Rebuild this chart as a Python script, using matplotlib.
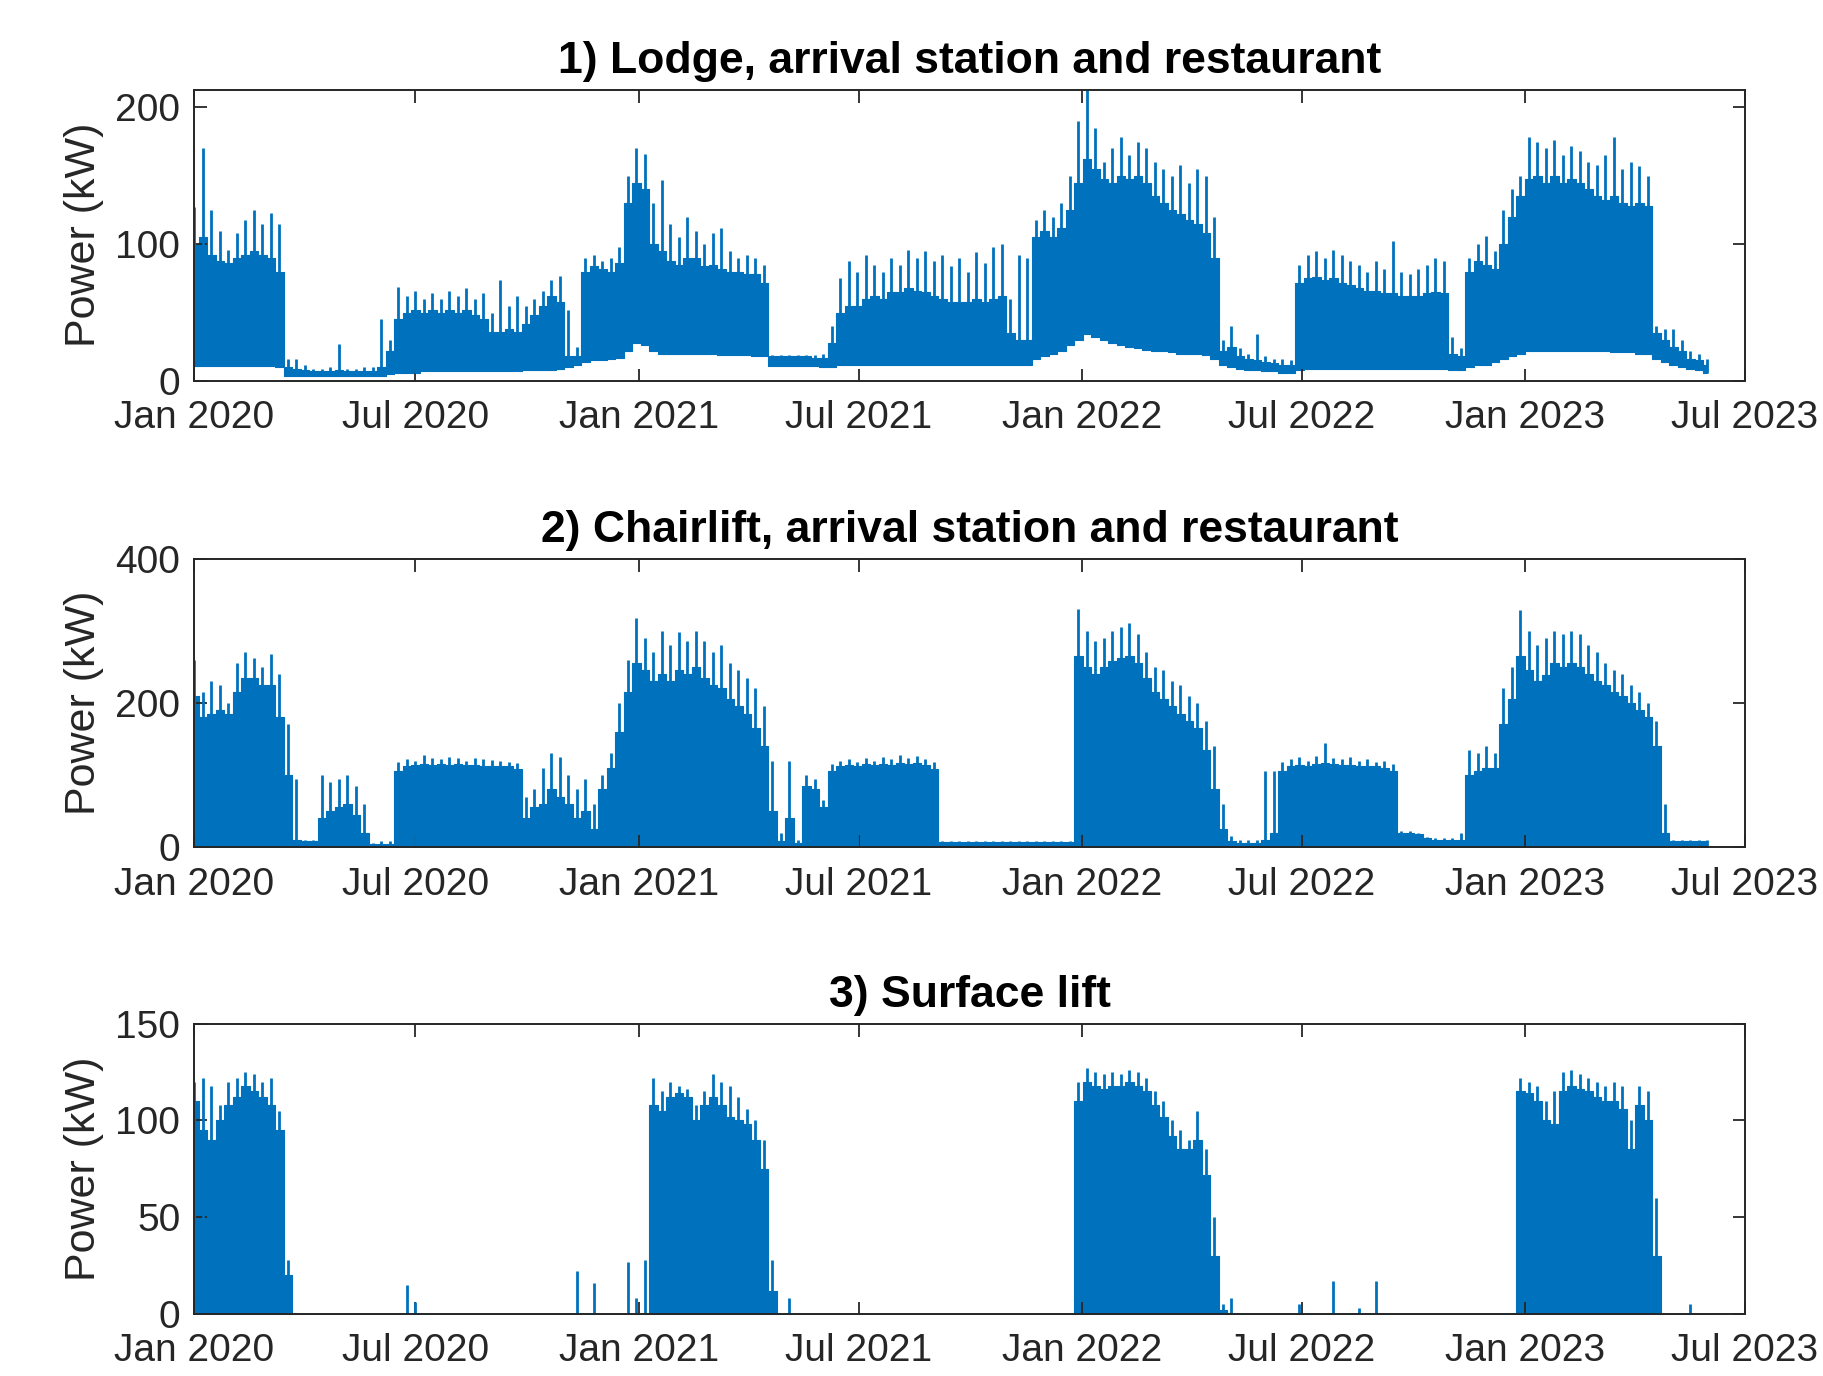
import matplotlib.pyplot as plt
import matplotlib.dates as mdates
import pandas as pd

plt.rcParams["font.family"] = ["Liberation Sans", "DejaVu Sans"]

BLUE = "#0072BD"
INK = "#262626"

# Weekly envelopes of the metered load (kW), first week starting 2020-01-01.
# peak = highest spike in the week, top = level of the dense daily band,
# base = night-time floor.
lodge_peak = [
    127, 170, 125, 110, 96, 108, 118, 125, 115, 123,
    115, 16, 16, 12, 9, 9, 10, 27, 9, 9,
    10, 10, 45, 30, 69, 62, 66, 60, 64, 60,
    66, 62, 68, 60, 64, 50, 74, 55, 62, 55,
    60, 66, 74, 77, 52, 25, 90, 92, 88, 90,
    98, 150, 170, 166, 130, 147, 115, 105, 120, 110,
    100, 108, 112, 95, 90, 92, 90, 85, 19, 19,
    19, 19, 19, 19, 20, 40, 75, 88, 80, 92,
    85, 80, 90, 85, 96, 90, 95, 88, 92, 84,
    90, 80, 94, 86, 98, 100, 60, 92, 90, 118,
    125, 120, 130, 150, 190, 213, 185, 160, 170, 178,
    165, 175, 170, 160, 155, 150, 158, 145, 155, 150,
    120, 30, 40, 24, 20, 34, 18, 16, 16, 15,
    85, 92, 95, 90, 96, 92, 88, 85, 80, 88,
    82, 102, 80, 78, 82, 85, 90, 88, 32, 24,
    90, 100, 106, 95, 125, 140, 150, 178, 175, 170,
    176, 165, 172, 168, 160, 158, 165, 178, 155, 160,
    157, 150, 40, 38, 38, 30, 22, 20, 16,
]
lodge_top = [
    100, 105, 92, 88, 86, 90, 92, 95, 92, 90,
    80, 10, 9, 8, 7, 7, 7, 8, 7, 7,
    7, 7, 10, 22, 45, 50, 52, 50, 52, 50,
    52, 50, 52, 48, 45, 36, 36, 38, 36, 42,
    48, 55, 62, 58, 18, 18, 80, 84, 82, 80,
    86, 130, 145, 140, 100, 95, 88, 85, 90, 90,
    84, 85, 82, 80, 80, 78, 78, 72, 18, 18,
    18, 18, 18, 17, 17, 28, 50, 55, 55, 60,
    62, 60, 65, 65, 68, 66, 65, 62, 60, 58,
    58, 58, 60, 58, 60, 62, 35, 30, 30, 105,
    110, 105, 112, 125, 145, 162, 155, 148, 145, 150,
    148, 150, 145, 135, 130, 125, 122, 118, 115, 108,
    90, 22, 25, 18, 16, 15, 14, 13, 12, 12,
    72, 75, 76, 74, 75, 72, 70, 68, 66, 66,
    64, 64, 62, 62, 62, 64, 65, 64, 20, 18,
    80, 88, 85, 82, 100, 120, 135, 148, 150, 145,
    150, 145, 148, 145, 140, 135, 132, 135, 130, 128,
    130, 128, 35, 30, 25, 22, 16, 15, 12,
]
lodge_base = [
    11, 11, 11, 11, 11, 11, 11, 11, 11, 11,
    10, 4, 4, 4, 4, 4, 4, 4, 4, 4,
    4, 4, 4, 5, 6, 6, 6, 7, 7, 7,
    7, 7, 7, 7, 7, 7, 7, 7, 7, 8,
    8, 8, 8, 9, 10, 12, 14, 15, 15, 16,
    17, 22, 28, 26, 22, 20, 20, 20, 20, 20,
    20, 20, 19, 19, 19, 19, 18, 18, 11, 11,
    11, 11, 11, 11, 10, 10, 12, 12, 12, 12,
    12, 12, 12, 12, 12, 12, 12, 12, 12, 12,
    12, 12, 12, 12, 12, 12, 12, 12, 12, 16,
    18, 20, 22, 26, 30, 34, 32, 30, 28, 26,
    25, 24, 23, 22, 22, 21, 20, 20, 20, 19,
    16, 12, 10, 9, 8, 8, 7, 7, 6, 6,
    8, 9, 9, 9, 9, 9, 9, 9, 9, 9,
    9, 9, 9, 9, 9, 9, 9, 9, 8, 8,
    10, 12, 12, 14, 16, 18, 20, 22, 22, 22,
    22, 22, 22, 22, 22, 22, 22, 21, 21, 21,
    20, 20, 16, 14, 12, 10, 9, 8, 6,
]

chair_peak = [
    260, 215, 230, 225, 200, 255, 270, 262, 250, 268,
    240, 170, 94, 10, 10, 100, 90, 95, 100, 85,
    60, 6, 8, 8, 118, 122, 120, 127, 124, 122,
    125, 124, 120, 123, 122, 121, 120, 118, 116, 70,
    80, 110, 130, 125, 100, 80, 95, 60, 100, 130,
    200, 260, 318, 290, 270, 300, 280, 298, 285, 300,
    285, 270, 280, 255, 245, 235, 220, 195, 120, 20,
    120, 10, 100, 95, 65, 115, 120, 122, 118, 124,
    120, 125, 122, 128, 124, 126, 122, 118, 8, 8,
    8, 8, 8, 8, 8, 8, 8, 8, 8, 8,
    8, 8, 8, 8, 330, 300, 285, 290, 300, 305,
    310, 295, 270, 250, 245, 230, 225, 210, 200, 175,
    140, 60, 15, 10, 10, 10, 105, 105, 118, 122,
    125, 120, 126, 144, 124, 122, 125, 120, 122, 118,
    120, 115, 22, 22, 20, 14, 12, 12, 12, 20,
    135, 130, 140, 130, 220, 250, 328, 300, 280, 290,
    300, 296, 300, 295, 280, 270, 255, 245, 240, 225,
    215, 200, 175, 60, 10, 10, 10, 10, 10,
]
chair_top = [
    210, 180, 185, 190, 185, 215, 235, 235, 225, 225,
    180, 100, 10, 9, 9, 40, 50, 55, 60, 45,
    20, 4, 4, 4, 105, 112, 114, 115, 114, 115,
    114, 115, 114, 114, 113, 113, 113, 112, 108, 40,
    55, 60, 80, 70, 60, 40, 50, 25, 80, 110,
    160, 215, 255, 245, 230, 240, 230, 245, 240, 250,
    235, 225, 220, 205, 195, 185, 165, 140, 50, 8,
    40, 5, 85, 80, 55, 105, 112, 114, 112, 115,
    114, 115, 114, 116, 115, 116, 114, 108, 7, 7,
    7, 7, 7, 7, 7, 7, 7, 7, 7, 7,
    7, 7, 7, 7, 265, 250, 240, 250, 258, 262,
    265, 255, 235, 215, 205, 195, 185, 175, 165, 135,
    80, 25, 8, 6, 6, 6, 10, 20, 105, 112,
    114, 113, 115, 116, 115, 114, 114, 113, 112, 112,
    110, 105, 20, 20, 18, 12, 10, 10, 10, 10,
    100, 105, 110, 110, 170, 205, 265, 245, 230, 238,
    255, 250, 255, 250, 240, 230, 225, 215, 210, 200,
    190, 180, 140, 20, 9, 9, 9, 9, 9,
]

surface_peak = (
    [120, 122, 118, 108, 120, 122, 125, 124, 120, 122,
     105, 28]
    + [0] * 13 + [15, 6] + [0] * 18
    + [22, 0, 16, 0, 0, 0, 27, 8, 28]
    + [122, 115, 120, 118, 116, 108, 115, 124, 120, 118,
       112, 106, 100, 90, 28, 0, 8]
    + [0] * 33
    + [120, 127, 125, 124, 125, 124, 126, 125, 122, 115,
       110, 100, 95, 90, 105, 85, 50, 5, 8]
    + [0] * 7 + [5, 0, 0, 0, 17, 0, 0, 3, 0, 17] + [0] * 16
    + [122, 120, 118, 110, 115, 125, 126, 124, 122, 120,
       118, 120, 118, 100, 118, 115, 60]
    + [0, 0, 0, 5, 0, 0]
)
surface_top = (
    [110, 95, 90, 100, 108, 112, 118, 115, 112, 108,
     95, 20]
    + [0] * 42
    + [108, 105, 112, 114, 112, 100, 108, 112, 108, 102,
       100, 98, 90, 75, 12, 0, 0]
    + [0] * 33
    + [110, 120, 118, 116, 118, 118, 120, 118, 115, 108,
       102, 92, 85, 85, 90, 72, 30, 2, 0]
    + [0] * 33
    + [115, 114, 110, 100, 98, 115, 118, 116, 115, 112,
       110, 110, 106, 85, 108, 100, 30]
    + [0] * 6
)

panels = [
    ("1) Lodge, arrival station and restaurant",
     lodge_peak, lodge_top, lodge_base, 213, [0, 100, 200]),
    ("2) Chairlift, arrival station and restaurant",
     chair_peak, chair_top, 0, 400, [0, 200, 400]),
    ("3) Surface lift",
     surface_peak, surface_top, 0, 150, [0, 50, 100, 150]),
]

fig = plt.figure(figsize=(18.24, 13.76), dpi=100)
rects = [
    [0.1065, 0.7231, 0.8502, 0.2118],
    [0.1065, 0.3844, 0.8502, 0.2097],
    [0.1065, 0.0451, 0.8502, 0.2110],
]

for rect, (title, peak, top, base, ymax, yticks) in zip(rects, panels):
    ax = fig.add_axes(rect)
    weeks = pd.date_range("2020-01-01", periods=len(peak), freq="7D")
    ax.fill_between(weeks, base, top, step="mid", color=BLUE,
                    edgecolor=BLUE, linewidth=0.8)
    ax.vlines(weeks, base, peak, color=BLUE, linewidth=2.0)

    ax.set_xlim(pd.Timestamp("2020-01-01"), pd.Timestamp("2023-07-01"))
    ax.set_ylim(0, ymax)
    ax.set_yticks(yticks)
    ax.xaxis.set_major_locator(mdates.MonthLocator(bymonth=[1, 7]))
    ax.xaxis.set_major_formatter(mdates.DateFormatter("%b %Y"))

    ax.tick_params(direction="in", length=9, width=1.3, colors=INK,
                   labelsize=28, top=True, right=True)
    ax.tick_params(axis="x", pad=14)
    ax.tick_params(axis="y", pad=10)
    for side in ax.spines.values():
        side.set_linewidth(1.4)
        side.set_color(INK)

    ax.set_title(title, fontsize=32, fontweight="bold", color="black", pad=12)
    ax.set_ylabel("Power (kW)", fontsize=31, color=INK, labelpad=8)

fig.savefig("out.png", dpi=100)
